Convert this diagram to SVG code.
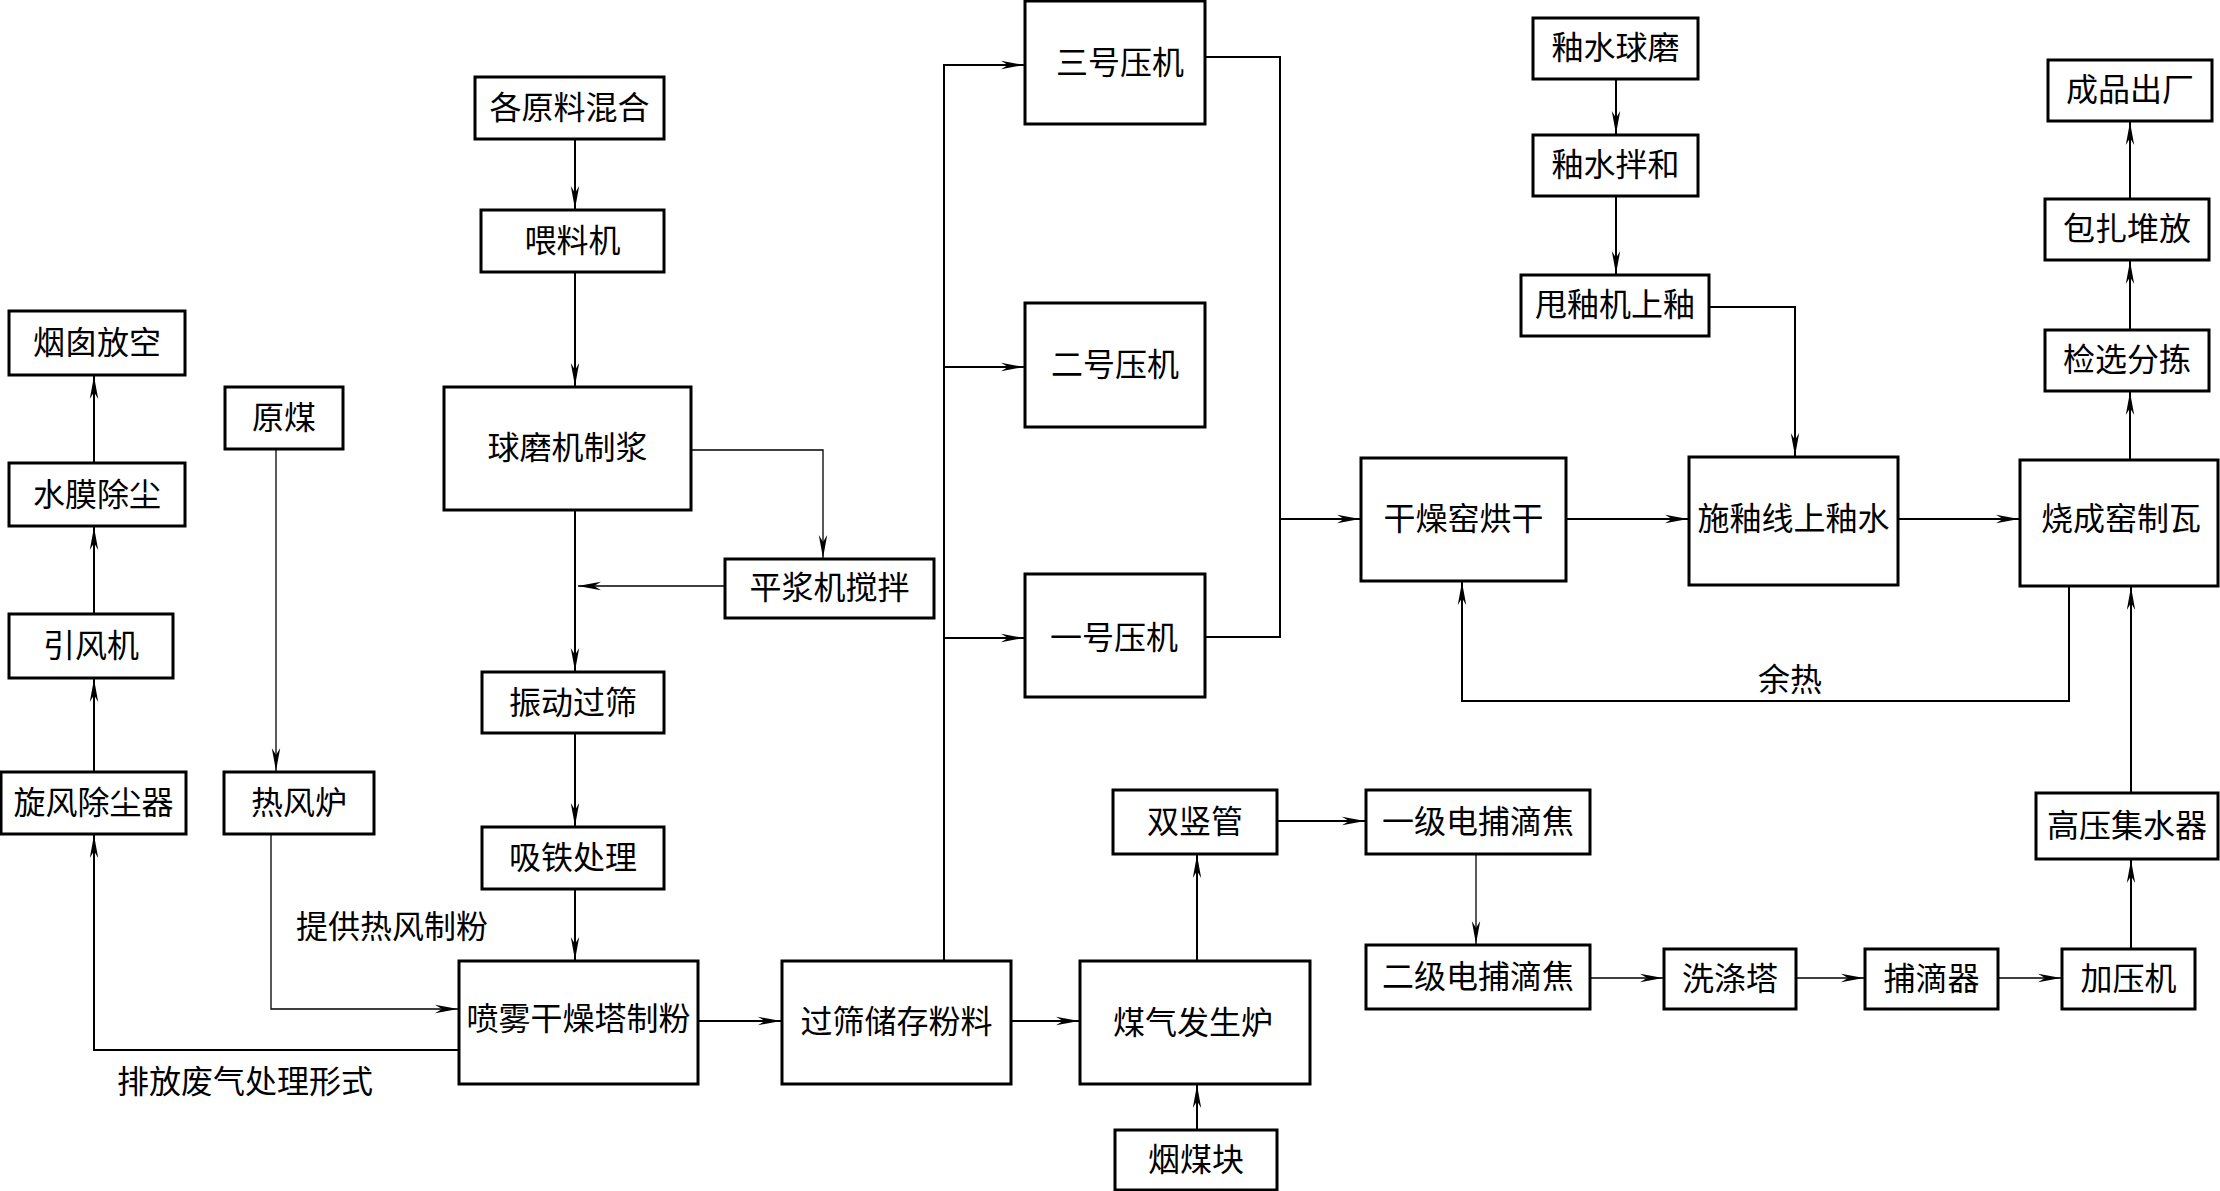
<svg xmlns="http://www.w3.org/2000/svg" width="2220" height="1191" viewBox="0 0 2220 1191">
<style>
.box{fill:#fff;stroke:#000;stroke-width:3}
.t{font-family:"Noto Sans CJK SC","Noto Sans",sans-serif;font-size:32px;fill:#000;text-anchor:middle}
.c{fill:none;stroke:#000;stroke-width:2;marker-end:url(#ah)}
.n{fill:none;stroke:#000;stroke-width:2}
.thin{stroke-width:1.3}
</style>
<defs>
<marker id="ah" markerUnits="userSpaceOnUse" markerWidth="26" markerHeight="12" viewBox="-24 -6 26 12" refX="0" refY="0" orient="auto">
<path d="M0,0 L-23,-4.2 L-16,0 L-23,4.2 Z" fill="#000"/>
</marker>
</defs>
<rect width="2220" height="1191" fill="#fff"/>
<g id="connectors">
<path class="c" d="M575,139 V209"/>
<path class="c" d="M575,272 V386"/>
<path class="c" d="M575,510 V671"/>
<path class="c thin" d="M691,450 H823 V558"/>
<path class="c thin" d="M725,586 H578"/>
<path class="c" d="M575,733 V826"/>
<path class="c" d="M575,889 V960"/>
<path class="c thin" d="M276,449 V771"/>
<path class="c thin" d="M271,834 V1009 H458"/>
<path class="c" d="M459,1050 H94 V835"/>
<path class="c" d="M94,772 V679"/>
<path class="c" d="M94,614 V527"/>
<path class="c" d="M94,463 V376"/>
<path class="c" d="M698,1021 H781"/>
<path class="c" d="M1011,1021 H1079"/>
<path class="c" d="M944,961 V65 H1024"/>
<path class="c" d="M944,367 H1024"/>
<path class="c" d="M944,638 H1024"/>
<path class="n" d="M1205,57 H1280 V637 H1205"/>
<path class="c" d="M1280,519 H1360"/>
<path class="c" d="M1566,519 H1688"/>
<path class="c" d="M1898,519 H2019"/>
<path class="c" d="M1616,79 V134"/>
<path class="c" d="M1616,196 V274"/>
<path class="c" d="M1709,307 H1795 V456"/>
<path class="c" d="M2130,460 V392"/>
<path class="c" d="M2130,330 V261"/>
<path class="c" d="M2130,199 V122"/>
<path class="c" d="M2069,586 V701 H1462 V582"/>
<path class="c" d="M2131,793 V587"/>
<path class="c" d="M2131,949 V860"/>
<path class="c" d="M1197,961 V855"/>
<path class="c" d="M1197,1130 V1085"/>
<path class="c" d="M1277,821 H1365"/>
<path class="c thin" d="M1476,854 V944"/>
<path class="c thin" d="M1590,978 H1663"/>
<path class="c thin" d="M1796,978 H1864"/>
<path class="c thin" d="M1998,978 H2061"/>
</g>
<g id="labels">
<text class="t" x="392" y="938">提供热风制粉</text>
<text class="t" x="245" y="1093">排放废气处理形式</text>
<text class="t" x="1790" y="691">余热</text>
</g>
<g id="n_gylhh"><rect class="box" x="475" y="77" width="189" height="62"/><text class="t" x="569.5" y="119">各原料混合</text></g>
<g id="n_wlj"><rect class="box" x="481" y="210" width="183" height="62"/><text class="t" x="572.5" y="252">喂料机</text></g>
<g id="n_qmj"><rect class="box" x="444" y="387" width="247" height="123"/><text class="t" x="567.5" y="459">球磨机制浆</text></g>
<g id="n_pjj"><rect class="box" x="725" y="559" width="209" height="59"/><text class="t" x="829.5" y="599">平浆机搅拌</text></g>
<g id="n_zdgs"><rect class="box" x="482" y="672" width="182" height="61"/><text class="t" x="573" y="714">振动过筛</text></g>
<g id="n_xtcl"><rect class="box" x="482" y="827" width="182" height="62"/><text class="t" x="573" y="869">吸铁处理</text></g>
<g id="n_pw"><rect class="box" x="459" y="961" width="239" height="123"/><text class="t" x="578.5" y="1030">喷雾干燥塔制粉</text></g>
<g id="n_ycfk"><rect class="box" x="9" y="311" width="176" height="64"/><text class="t" x="97" y="354">烟囱放空</text></g>
<g id="n_smcc"><rect class="box" x="9" y="463" width="176" height="63"/><text class="t" x="97" y="506">水膜除尘</text></g>
<g id="n_yfj"><rect class="box" x="9" y="614" width="164" height="64"/><text class="t" x="91" y="657">引风机</text></g>
<g id="n_xfcc"><rect class="box" x="1" y="772" width="185" height="62"/><text class="t" x="93.5" y="814">旋风除尘器</text></g>
<g id="n_ym"><rect class="box" x="225" y="387" width="118" height="62"/><text class="t" x="284" y="429">原煤</text></g>
<g id="n_rfl"><rect class="box" x="224" y="772" width="150" height="62"/><text class="t" x="299" y="814">热风炉</text></g>
<g id="n_gscc"><rect class="box" x="782" y="961" width="229" height="123"/><text class="t" x="896.5" y="1033">过筛储存粉料</text></g>
<g id="n_mqfsl"><rect class="box" x="1080" y="961" width="230" height="123"/><text class="t" x="1193" y="1034">煤气发生炉</text></g>
<g id="n_ymk"><rect class="box" x="1115" y="1130" width="162" height="60"/><text class="t" x="1196" y="1171">烟煤块</text></g>
<g id="n_ssg"><rect class="box" x="1113" y="790" width="164" height="64"/><text class="t" x="1195" y="833">双竖管</text></g>
<g id="n_yj"><rect class="box" x="1366" y="790" width="224" height="64"/><text class="t" x="1478" y="833">一级电捕滴焦</text></g>
<g id="n_ej"><rect class="box" x="1366" y="945" width="224" height="64"/><text class="t" x="1478" y="988">二级电捕滴焦</text></g>
<g id="n_xdt"><rect class="box" x="1664" y="949" width="132" height="60"/><text class="t" x="1730" y="990">洗涤塔</text></g>
<g id="n_bdq"><rect class="box" x="1865" y="949" width="133" height="60"/><text class="t" x="1931.5" y="990">捕滴器</text></g>
<g id="n_jyj"><rect class="box" x="2062" y="949" width="133" height="60"/><text class="t" x="2128.5" y="990">加压机</text></g>
<g id="n_gyjsq"><rect class="box" x="2036" y="793" width="182" height="66"/><text class="t" x="2127" y="837">高压集水器</text></g>
<g id="n_3"><rect class="box" x="1025" y="1" width="180" height="123"/><text class="t" x="1120" y="74">三号压机</text></g>
<g id="n_2"><rect class="box" x="1025" y="303" width="180" height="124"/><text class="t" x="1115" y="376">二号压机</text></g>
<g id="n_1"><rect class="box" x="1025" y="574" width="180" height="123"/><text class="t" x="1114" y="649">一号压机</text></g>
<g id="n_gzy"><rect class="box" x="1361" y="458" width="205" height="123"/><text class="t" x="1463.5" y="530">干燥窑烘干</text></g>
<g id="n_sy"><rect class="box" x="1689" y="457" width="209" height="128"/><text class="t" x="1793.5" y="530">施釉线上釉水</text></g>
<g id="n_scy"><rect class="box" x="2020" y="460" width="198" height="126"/><text class="t" x="2121" y="530">烧成窑制瓦</text></g>
<g id="n_ysqm"><rect class="box" x="1533" y="18" width="165" height="61"/><text class="t" x="1615.5" y="59">釉水球磨</text></g>
<g id="n_yshb"><rect class="box" x="1533" y="135" width="165" height="61"/><text class="t" x="1615.5" y="176">釉水拌和</text></g>
<g id="n_syj"><rect class="box" x="1521" y="275" width="188" height="61"/><text class="t" x="1615" y="316">甩釉机上釉</text></g>
<g id="n_jxfj"><rect class="box" x="2045" y="330" width="164" height="61"/><text class="t" x="2127" y="371">检选分拣</text></g>
<g id="n_bzdf"><rect class="box" x="2045" y="199" width="164" height="61"/><text class="t" x="2127" y="240">包扎堆放</text></g>
<g id="n_cpcc"><rect class="box" x="2048" y="60" width="164" height="61"/><text class="t" x="2130" y="101">成品出厂</text></g>
</svg>
